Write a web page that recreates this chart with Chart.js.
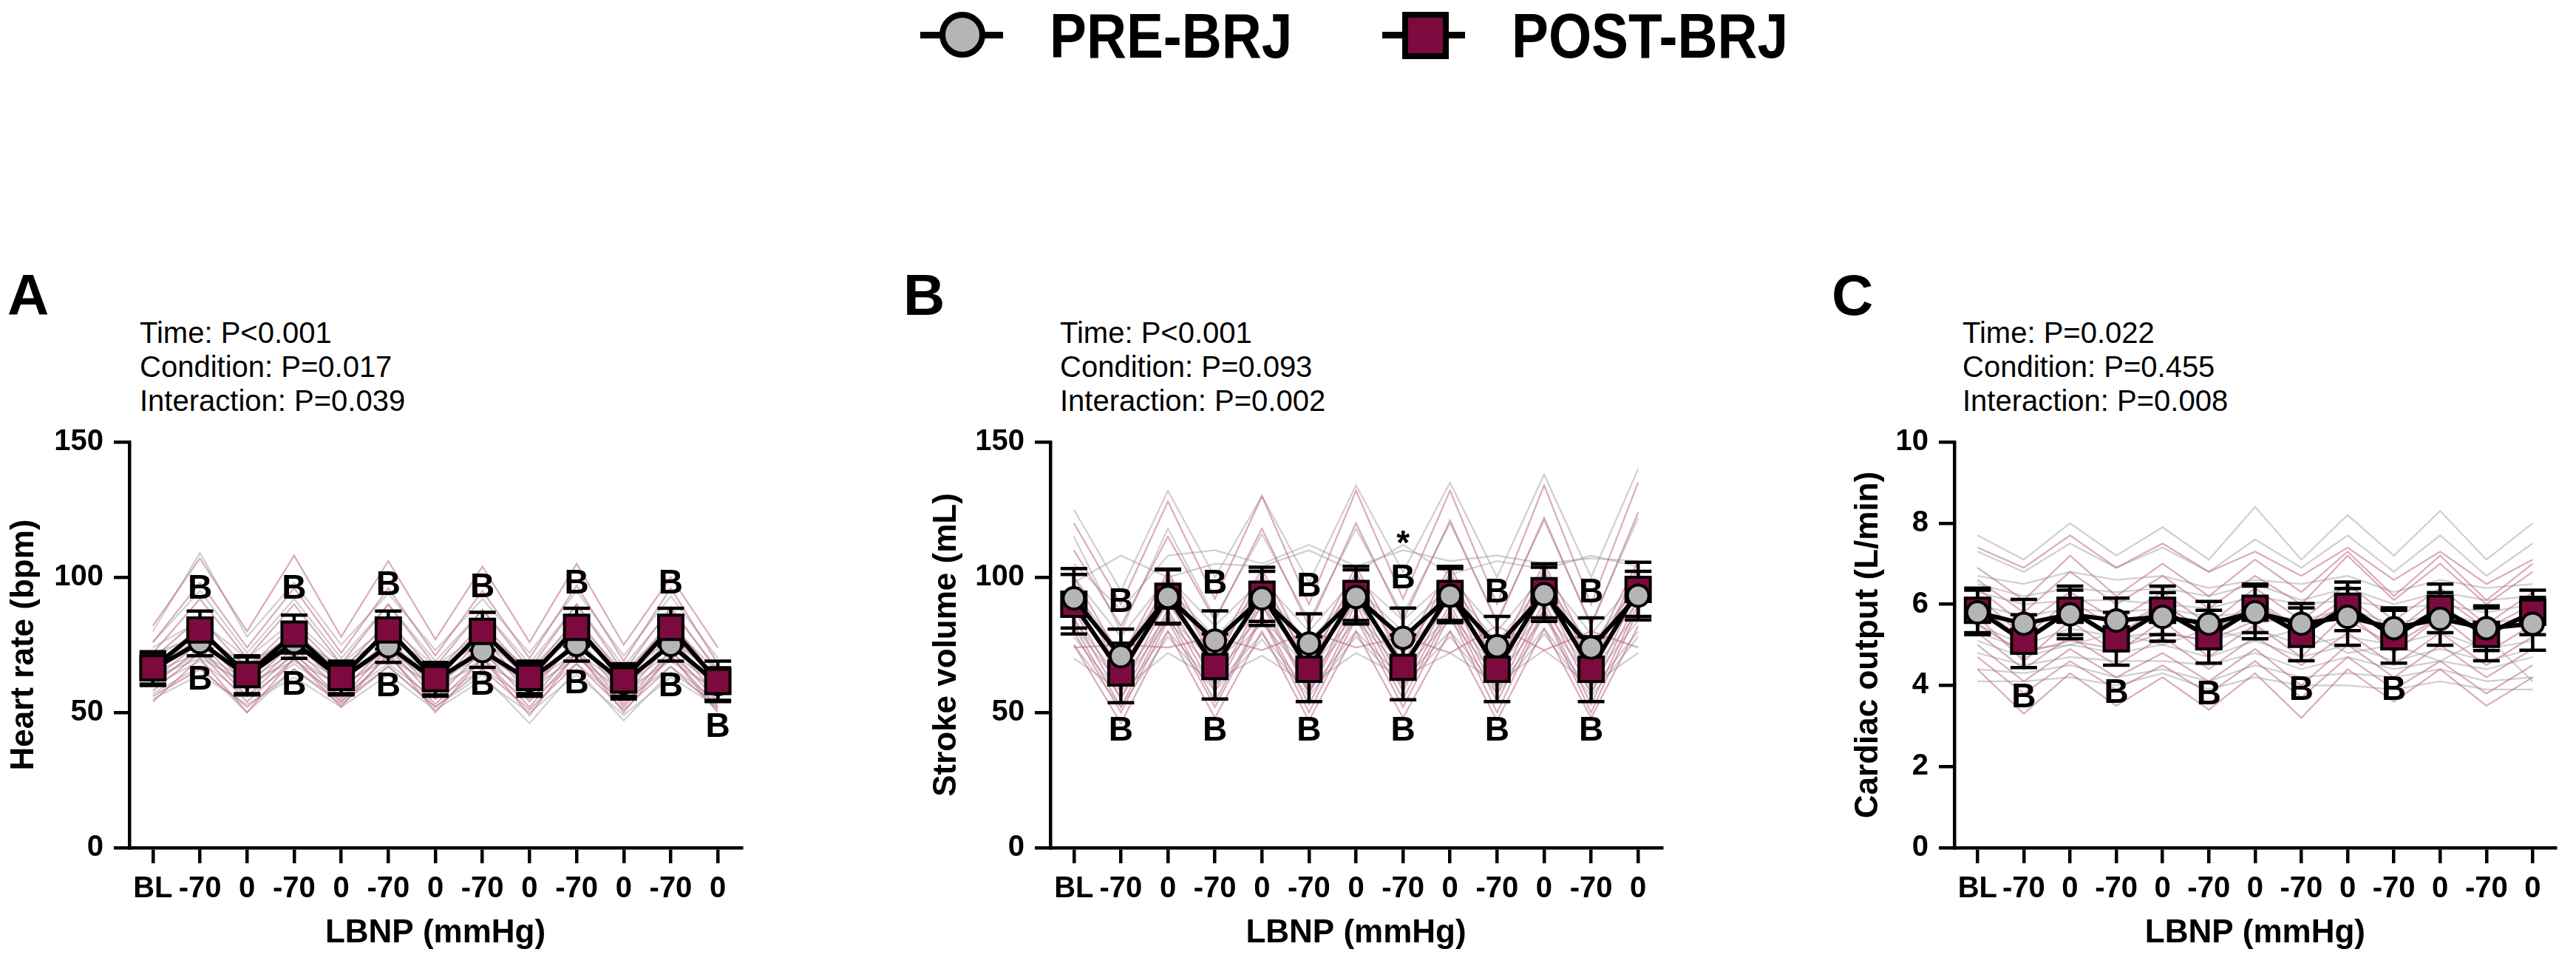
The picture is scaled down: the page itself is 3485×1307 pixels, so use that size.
<!DOCTYPE html>
<html>
<head>
<meta charset="utf-8">
<script src="https://cdn.jsdelivr.net/npm/chart.js@4.4.0/dist/chart.umd.min.js"></script>
<style>
  body { margin: 0; width: 3485px; height: 1307px; background: #fff; position: relative; overflow: hidden;
         font-family: "Liberation Sans", Arial, sans-serif; color: #000; }
  canvas { position: absolute; top: 560px; }
  .letter { position: absolute; top: 360px; font-size: 78px; font-weight: bold; line-height: 1; }
  .stats { position: absolute; top: 427px; font-size: 40px; line-height: 46px; white-space: nowrap; }
  .lgline { position: absolute; height: 9px; background: #000; top: 43px; }
  .lgtext { position: absolute; top: 5px; font-size: 86px; font-weight: bold; line-height: 1;
            transform: scaleX(0.87); transform-origin: left top; white-space: nowrap; }
</style>
</head>
<body>

<!-- legend -->
<div class="lgline" style="left:1245px;width:112px"></div>
<div style="position:absolute;left:1271px;top:16px;width:46px;height:46px;border:8px solid #000;border-radius:50%;background:#b5b5b5"></div>
<div class="lgtext" style="left:1420px">PRE-BRJ</div>
<div class="lgline" style="left:1870px;width:112px"></div>
<div style="position:absolute;left:1897px;top:16px;width:47px;height:48px;border:8px solid #000;background:#7c0a3e"></div>
<div class="lgtext" style="left:2045px">POST-BRJ</div>

<div class="letter" style="left:10px">A</div>
<div class="stats" style="left:189px">Time: P&lt;0.001<br>Condition: P=0.017<br>Interaction: P=0.039</div>
<div class="letter" style="left:1222px">B</div>
<div class="stats" style="left:1434px">Time: P&lt;0.001<br>Condition: P=0.093<br>Interaction: P=0.002</div>
<div class="letter" style="left:2478px">C</div>
<div class="stats" style="left:2655px">Time: P=0.022<br>Condition: P=0.455<br>Interaction: P=0.008</div>

<canvas id="hr" width="1040" height="747" style="left:0px"></canvas>
<canvas id="sv" width="1037" height="747" style="left:1248px"></canvas>
<canvas id="co" width="990" height="747" style="left:2495px"></canvas>

<script>
const labels = ['BL', '-70', '0', '-70', '0', '-70', '0', '-70', '0', '-70', '0', '-70', '0'];

// heart rate (bpm)
const hrTicks = [0, 50, 100, 150];
const hrPreMean = [66, 76, 63.5, 76, 62.5, 74.5, 62, 72.7, 62, 75, 61, 75, 60.5];
const hrPreErr = [6, 5, 7, 6, 6, 6, 6, 6, 6, 6, 6, 6, 6];
const hrPostMean = [66.5, 80.5, 64, 79, 63, 80.5, 62.5, 80, 63, 81.5, 62, 81.5, 61.5];
const hrPostErr = [6, 7, 7, 7, 6, 7, 6, 7, 6, 7, 6, 7, 7.5];
const hrPreSubjects = [
  [80, 109, 78, 98, 75, 94, 73, 92, 72, 95, 71, 93, 70],
  [70, 80, 66, 80, 65, 79, 64, 77, 63, 80, 62, 78, 62],
  [62, 72, 59, 71, 59, 72, 58, 70, 57, 72, 56, 71, 57],
  [57, 67, 50, 66, 54, 67, 52, 64, 46, 66, 47, 65, 53],
  [74, 84, 70, 84, 68, 82, 67, 80, 66, 83, 65, 82, 65],
  [65, 72, 62, 72, 62, 73, 61, 71, 61, 72, 60, 72, 60],
  [60, 69, 56, 68, 56, 68, 55, 66, 55, 68, 54, 67, 54],
  [68, 77, 64, 76, 63, 76, 63, 73, 62, 76, 61, 75, 61],
  [76, 95, 72, 92, 70, 90, 69, 88, 68, 90, 67, 88, 66],
  [55, 64, 53, 63, 52, 64, 51, 62, 50, 64, 49, 63, 52],
  [72, 78, 68, 78, 67, 79, 66, 76, 66, 78, 65, 77, 64],
  [63, 70, 61, 69, 60, 70, 60, 68, 59, 70, 58, 69, 58]
];
const hrPostSubjects = [
  [82, 107, 80, 108, 78, 106, 77, 104, 76, 105, 75, 100, 74],
  [72, 92, 70, 90, 68, 90, 67, 88, 66, 90, 65, 89, 65],
  [66, 82, 63, 80, 62, 82, 62, 80, 61, 82, 60, 82, 60],
  [60, 74, 56, 72, 55, 74, 55, 73, 54, 74, 53, 73, 54],
  [54, 70, 50, 70, 52, 72, 50, 70, 49, 72, 50, 71, 50],
  [64, 78, 60, 76, 60, 77, 59, 78, 58, 78, 58, 78, 58],
  [70, 85, 66, 83, 65, 84, 64, 83, 64, 85, 63, 84, 62],
  [62, 76, 58, 74, 58, 75, 58, 76, 57, 77, 56, 76, 56],
  [76, 98, 74, 96, 72, 96, 71, 95, 70, 97, 69, 96, 68],
  [58, 72, 54, 70, 54, 71, 53, 70, 52, 72, 52, 71, 52],
  [68, 80, 65, 80, 64, 81, 63, 80, 62, 81, 62, 80, 61],
  [56, 66, 52, 66, 53, 67, 52, 66, 51, 68, 51, 67, 51]
];
const hrMarks = [
  [1, 'B', 95.6], [3, 'B', 95.6], [5, 'B', 97], [7, 'B', 96], [9, 'B', 97.5], [11, 'B', 97.5],
  [1, 'B', 62], [3, 'B', 60], [5, 'B', 59.5], [7, 'B', 60], [9, 'B', 60.5], [11, 'B', 59.5],
  [12, 'B', 44.5]
];

// stroke volume (mL)
const svTicks = [0, 50, 100, 150];
const svPreMean = [92.2, 70.8, 92.7, 76.6, 92.2, 75.5, 92.7, 77.6, 93.2, 74.5, 93.7, 74, 93.2];
const svPreErr = [11, 10, 10, 11, 10, 11, 10, 11, 10, 11, 10, 11, 9];
const svPostMean = [90, 64.6, 93, 67, 93.7, 66, 94, 66.7, 94, 66, 95, 66, 95.5];
const svPostErr = [11, 11, 10, 12, 10, 12, 10, 12, 10, 12, 10, 12, 10];
const svPreSubjects = [
  [125, 95, 132, 100, 130, 98, 134, 102, 135, 100, 138, 100, 140],
  [105, 88, 108, 110, 105, 112, 104, 110, 106, 108, 105, 107, 106],
  [95, 72, 96, 78, 95, 76, 96, 80, 97, 76, 98, 75, 97],
  [88, 66, 90, 70, 89, 69, 90, 72, 91, 70, 92, 69, 91],
  [82, 60, 84, 65, 83, 63, 84, 66, 84, 63, 85, 62, 84],
  [75, 52, 78, 58, 77, 56, 78, 60, 78, 57, 79, 56, 78],
  [100, 78, 100, 82, 99, 80, 100, 84, 100, 80, 101, 79, 100],
  [70, 58, 72, 62, 71, 60, 72, 63, 72, 61, 73, 60, 72],
  [115, 80, 118, 85, 116, 84, 118, 86, 120, 84, 121, 83, 122],
  [98, 108, 100, 105, 104, 110, 102, 112, 101, 106, 103, 108, 104],
  [84, 62, 86, 68, 85, 66, 86, 68, 86, 66, 88, 65, 87],
  [78, 56, 80, 60, 79, 58, 80, 62, 80, 59, 81, 58, 80]
];
const svPostSubjects = [
  [120, 90, 128, 92, 130, 90, 132, 92, 132, 90, 134, 90, 135],
  [100, 70, 102, 72, 103, 71, 104, 72, 104, 71, 105, 71, 106],
  [92, 62, 95, 64, 96, 63, 96, 64, 97, 63, 98, 63, 99],
  [85, 55, 88, 58, 90, 57, 90, 58, 90, 57, 91, 57, 92],
  [80, 50, 84, 52, 85, 50, 85, 52, 86, 50, 87, 50, 88],
  [75, 46, 80, 48, 80, 47, 80, 48, 80, 47, 81, 48, 82],
  [95, 68, 96, 72, 96, 70, 97, 72, 97, 70, 98, 70, 99],
  [74, 75, 74, 78, 73, 80, 74, 78, 72, 82, 73, 80, 74],
  [110, 82, 115, 84, 118, 82, 120, 84, 121, 83, 122, 82, 124],
  [88, 58, 92, 60, 92, 58, 93, 60, 94, 59, 95, 59, 96],
  [82, 52, 86, 54, 86, 53, 87, 55, 88, 54, 88, 53, 90],
  [98, 64, 100, 68, 101, 66, 102, 68, 102, 66, 103, 66, 104]
];
const svMarks = [
  [1, 'B', 90.6], [3, 'B', 97.4], [5, 'B', 96.4], [7, 'B', 99.5], [9, 'B', 94.3], [11, 'B', 94.3],
  [7, '*', 114],
  [1, 'B', 43.2], [3, 'B', 43.2], [5, 'B', 43.2], [7, 'B', 43.2], [9, 'B', 43.2], [11, 'B', 43.2]
];

// cardiac output (L/min)
const coTicks = [0, 2, 4, 6, 8, 10];
const coPreMean = [5.8, 5.52, 5.75, 5.6, 5.69, 5.52, 5.8, 5.52, 5.69, 5.41, 5.64, 5.41, 5.52];
const coPreErr = [0.55, 0.6, 0.6, 0.55, 0.6, 0.55, 0.65, 0.5, 0.7, 0.5, 0.65, 0.55, 0.65];
const coPostMean = [5.85, 5.09, 5.85, 5.15, 5.85, 5.2, 5.9, 5.26, 5.95, 5.2, 5.9, 5.26, 5.8];
const coPostErr = [0.55, 0.65, 0.6, 0.65, 0.6, 0.65, 0.6, 0.65, 0.6, 0.65, 0.6, 0.65, 0.55];
const coPreSubjects = [
  [7.7, 7.1, 8.0, 7.2, 7.9, 7.1, 8.4, 7.1, 8.2, 7.2, 8.3, 7.1, 8.0],
  [6.7, 6.5, 6.8, 6.6, 6.7, 6.4, 6.6, 6.5, 6.7, 6.3, 6.6, 6.4, 6.5],
  [6.0, 5.7, 5.9, 5.8, 5.9, 5.7, 5.8, 5.6, 5.9, 5.5, 5.8, 5.5, 5.7],
  [5.5, 5.0, 5.4, 5.2, 5.3, 5.1, 5.4, 5.0, 5.2, 5.0, 5.3, 4.9, 5.1],
  [4.8, 4.5, 4.7, 4.6, 4.6, 4.5, 4.8, 4.4, 4.7, 4.4, 4.6, 4.4, 4.7],
  [4.1, 4.1, 4.2, 4.0, 4.3, 3.9, 4.2, 4.0, 4.0, 3.9, 4.1, 3.9, 3.9],
  [6.3, 6.0, 6.1, 6.1, 6.0, 5.9, 6.2, 6.0, 6.1, 5.9, 6.0, 5.8, 6.0],
  [5.3, 4.9, 5.0, 5.3, 5.0, 5.4, 5.1, 5.4, 4.8, 5.0, 4.6, 5.2, 4.1],
  [7.3, 6.8, 7.5, 6.9, 7.4, 6.8, 7.6, 6.9, 7.7, 6.8, 7.7, 6.7, 7.5],
  [6.5, 6.2, 6.4, 6.3, 6.4, 6.2, 6.5, 6.1, 6.4, 6.0, 6.3, 6.1, 6.2],
  [5.1, 4.7, 5.0, 4.8, 5.0, 4.7, 5.1, 4.7, 5.0, 4.6, 4.9, 4.6, 4.9],
  [4.4, 4.3, 4.5, 4.2, 4.4, 4.1, 4.5, 4.2, 4.3, 4.2, 4.4, 4.1, 4.2]
];
const coPostSubjects = [
  [7.4, 6.9, 7.7, 6.9, 7.5, 6.8, 7.3, 6.7, 7.4, 6.6, 7.3, 6.5, 7.1],
  [6.6, 5.8, 6.8, 6.0, 6.7, 5.9, 6.7, 6.0, 7.2, 6.1, 7.0, 6.0, 6.8],
  [6.2, 5.2, 6.1, 5.4, 6.0, 5.3, 6.1, 5.4, 6.2, 5.3, 6.2, 5.4, 6.0],
  [5.7, 4.6, 5.6, 4.8, 5.6, 4.7, 5.5, 4.7, 5.8, 4.8, 5.7, 4.8, 5.5],
  [5.0, 4.1, 4.9, 4.2, 4.8, 4.1, 4.9, 4.0, 5.0, 4.2, 5.0, 4.2, 4.9],
  [4.4, 3.3, 4.3, 3.5, 4.2, 3.4, 4.3, 3.2, 4.4, 3.6, 4.4, 3.5, 4.2],
  [6.0, 5.1, 5.9, 5.2, 6.0, 5.3, 6.0, 5.4, 6.0, 5.2, 5.9, 5.3, 5.8],
  [5.5, 4.8, 5.1, 4.9, 5.3, 5.1, 5.6, 5.6, 5.6, 5.0, 5.7, 5.3, 5.7],
  [6.9, 6.1, 7.2, 6.2, 7.0, 6.2, 7.1, 6.3, 7.3, 6.2, 7.2, 6.1, 7.0],
  [6.4, 5.5, 6.3, 5.6, 6.3, 5.5, 6.4, 5.6, 6.5, 5.6, 6.4, 5.5, 6.3],
  [5.3, 4.4, 5.2, 4.5, 5.2, 4.4, 5.2, 4.5, 5.3, 4.5, 5.3, 4.5, 5.2],
  [4.7, 3.8, 4.6, 3.9, 4.5, 3.8, 4.6, 3.7, 4.7, 3.9, 4.6, 3.8, 4.5]
];
const coMarks = [[1, 'B', 3.7], [3, 'B', 3.81], [5, 'B', 3.76], [7, 'B', 3.87], [9, 'B', 3.87]];

const FONT = '"Liberation Sans", Arial, sans-serif';
const GRAY_LINE = 'rgba(160,160,160,0.5)';
const PINK_LINE = 'rgba(190,100,135,0.55)';

// error bars go under both mean series, the "B" letters on top of everything
const extras = {
  id: 'extras',
  beforeDatasetDraw(chart, args) {
    if (!chart.data.datasets[args.index].errorsFirst) return;
    const { ctx, scales: { x, y } } = chart;
    ctx.save();
    ctx.strokeStyle = '#000';
    ctx.lineWidth = 4.5;
    chart.data.datasets.forEach(d => {
      if (!d.err) return;
      d.data.forEach((v, i) => {
        const px = x.getPixelForValue(i);
        const top = y.getPixelForValue(v + d.err[i]);
        const bot = y.getPixelForValue(v - d.err[i]);
        ctx.beginPath();
        ctx.moveTo(px, top); ctx.lineTo(px, bot);
        ctx.moveTo(px - 18, top); ctx.lineTo(px + 18, top);
        ctx.moveTo(px - 18, bot); ctx.lineTo(px + 18, bot);
        ctx.stroke();
      });
    });
    ctx.restore();
  },
  afterDatasetsDraw(chart, args, opts) {
    const { ctx, scales: { x, y } } = chart;
    ctx.save();
    ctx.fillStyle = '#000';
    ctx.font = 'bold 46px ' + FONT;
    ctx.textAlign = 'center';
    ctx.textBaseline = 'middle';
    (opts.marks || []).forEach(([i, t, v]) => {
      ctx.fillText(t, x.getPixelForValue(i), y.getPixelForValue(v) + (t === '*' ? 8 : 0));
    });
    ctx.restore();
  }
};

function makePanel(id, cfg) {
  const datasets = [];
  cfg.pre.forEach((s, k) => datasets.push({
    data: s, borderColor: GRAY_LINE, borderWidth: 2.2, pointRadius: 0, order: 40 + k
  }));
  cfg.post.forEach((s, k) => datasets.push({
    data: s, borderColor: PINK_LINE, borderWidth: 2.2, pointRadius: 0, order: 10 + k
  }));
  const preDs = {
    data: cfg.preMean, err: cfg.preErr, borderColor: '#000', borderWidth: 6,
    pointStyle: 'circle', pointRadius: 14.5, pointBorderWidth: 4,
    pointBackgroundColor: '#b5b5b5', pointBorderColor: '#000'
  };
  const postDs = {
    data: cfg.postMean, err: cfg.postErr, borderColor: '#000', borderWidth: 6,
    pointStyle: 'rect', pointRadius: 23.3, pointBorderWidth: 4,
    pointBackgroundColor: '#7c0a3e', pointBorderColor: '#000'
  };
  if (cfg.postOnTop) {
    preDs.order = 2; preDs.errorsFirst = true; postDs.order = 1;
  } else {
    postDs.order = 2; postDs.errorsFirst = true; preDs.order = 1;
  }
  datasets.push(preDs, postDs);

  new Chart(document.getElementById(id), {
    type: 'line',
    data: { labels: labels, datasets: datasets },
    plugins: [extras],
    options: {
      responsive: false,
      animation: false,
      devicePixelRatio: 1,
      clip: false,
      layout: { padding: { top: 37, right: cfg.padRight, left: 0, bottom: 0 } },
      plugins: {
        legend: { display: false },
        tooltip: { enabled: false },
        extras: { marks: cfg.marks }
      },
      scales: {
        x: {
          type: 'category',
          offset: true,
          grid: { offset: false, drawOnChartArea: false, tickLength: 21, lineWidth: 4.5, color: '#000' },
          border: { display: true, width: 4.5, color: '#000' },
          ticks: { color: '#000', font: { family: FONT, size: 40, weight: 'bold' }, padding: 11,
                   maxRotation: 0, autoSkip: false },
          title: { display: true, text: 'LBNP (mmHg)', color: '#000',
                   font: { family: FONT, size: 44, weight: 'bold' }, padding: { top: 0, bottom: 18 } },
          afterFit: s => { s.height = 160; }
        },
        y: {
          min: cfg.ticks[0],
          max: cfg.ticks[cfg.ticks.length - 1],
          afterBuildTicks: s => { s.ticks = cfg.ticks.map(v => ({ value: v })); },
          grid: { drawOnChartArea: false, tickLength: 21, lineWidth: 4.5, color: '#000' },
          border: { display: true, width: 4.5, color: '#000' },
          ticks: { color: '#000', font: { family: FONT, size: 40, weight: 'bold' }, padding: 14 },
          title: { display: true, text: cfg.yTitle, color: '#000',
                   font: { family: FONT, size: 44, weight: 'bold' }, padding: { top: 6, bottom: 0 } },
          afterFit: s => { s.width = cfg.yWidth; }
        }
      }
    }
  });
}

makePanel('hr', {
  pre: hrPreSubjects, post: hrPostSubjects,
  preMean: hrPreMean, preErr: hrPreErr, postMean: hrPostMean, postErr: hrPostErr,
  marks: hrMarks, ticks: hrTicks, yTitle: 'Heart rate (bpm)', yWidth: 175, padRight: 37, postOnTop: true
});
makePanel('sv', {
  pre: svPreSubjects, post: svPostSubjects,
  preMean: svPreMean, preErr: svPreErr, postMean: svPostMean, postErr: svPostErr,
  marks: svMarks, ticks: svTicks, yTitle: 'Stroke volume (mL)', yWidth: 173, padRight: 37, postOnTop: false
});
makePanel('co', {
  pre: coPreSubjects, post: coPostSubjects,
  preMean: coPreMean, preErr: coPreErr, postMean: coPostMean, postErr: coPostErr,
  marks: coMarks, ticks: coTicks, yTitle: 'Cardiac output (L/min)', yWidth: 149, padRight: 17, postOnTop: false
});
</script>
</body>
</html>
